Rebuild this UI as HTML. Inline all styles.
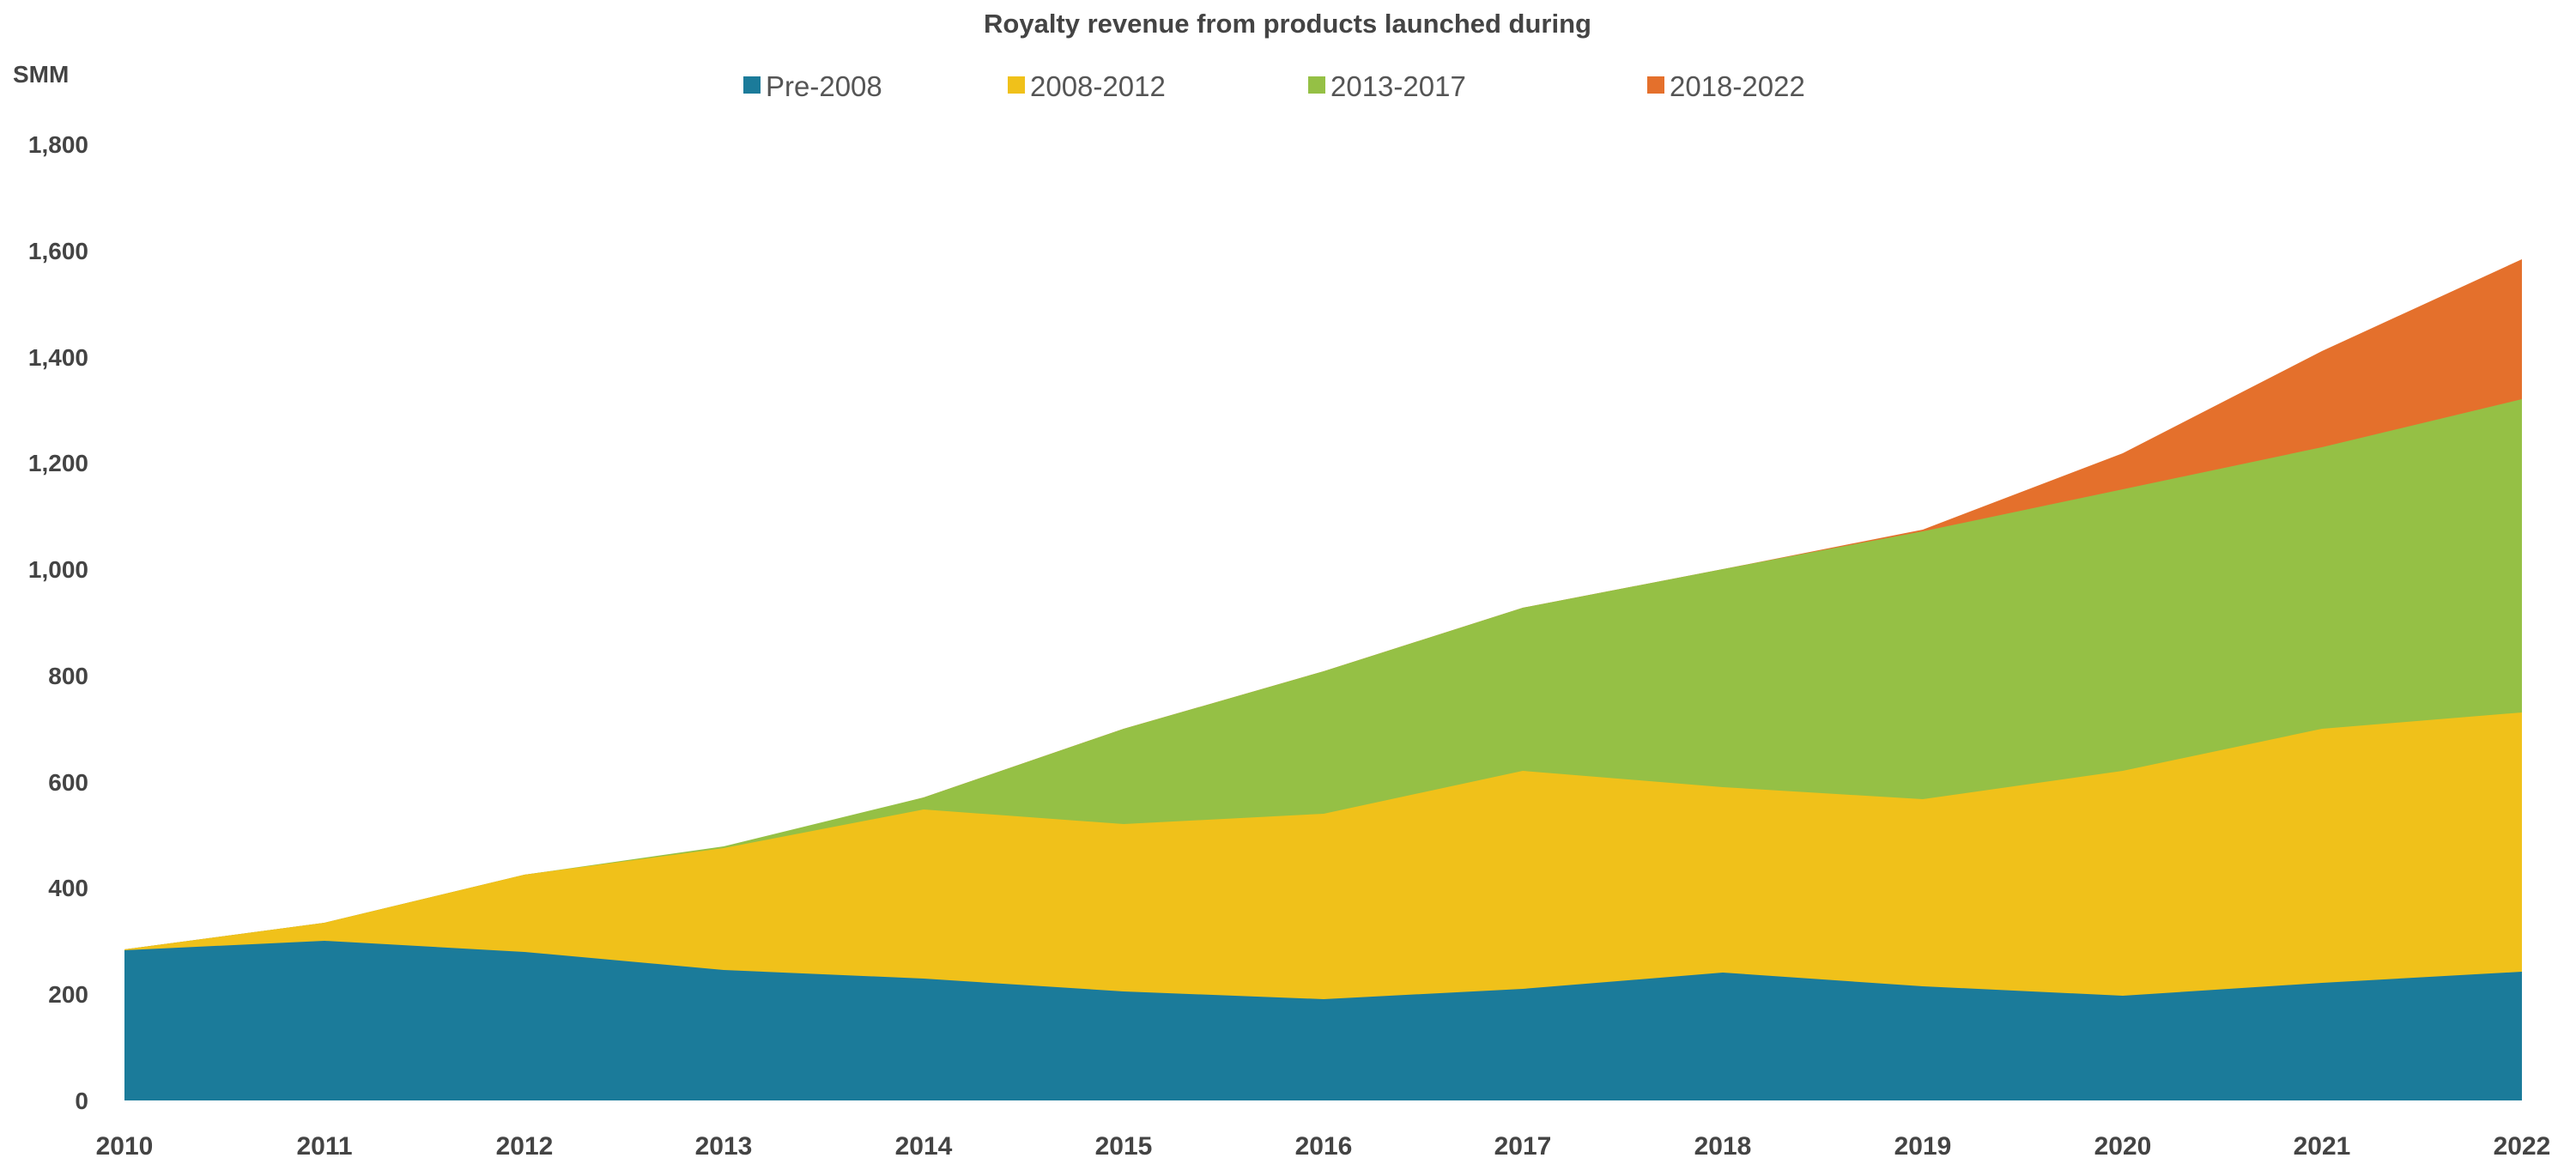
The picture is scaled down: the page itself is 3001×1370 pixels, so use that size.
<!DOCTYPE html>
<html><head><meta charset="utf-8"><style>
html,body{margin:0;padding:0;background:#fff;}
svg{display:block;font-family:"Liberation Sans",Arial,sans-serif;}
</style></head><body>
<svg width="3001" height="1370" viewBox="0 0 3001 1370">
<rect width="3001" height="1370" fill="#fff"/>
<text x="1500" y="38" text-anchor="middle" font-size="31" font-weight="bold" fill="#444">Royalty revenue from products launched during</text>
<g font-size="33" fill="#555">
<rect x="866" y="89" width="20" height="20" fill="#1b7b9a"/><text x="892" y="112">Pre-2008</text>
<rect x="1174" y="89" width="20" height="20" fill="#f0c11a"/><text x="1200" y="112">2008-2012</text>
<rect x="1524" y="89" width="20" height="20" fill="#95c045"/><text x="1550" y="112">2013-2017</text>
<rect x="1919" y="89" width="20" height="20" fill="#e4702c"/><text x="1945" y="112">2018-2022</text>
</g>
<text x="15" y="96" font-size="28" font-weight="bold" fill="#444">SMM</text>
<g font-size="28" font-weight="bold" fill="#444" text-anchor="end">
<text x="103" y="1292">0</text>
<text x="103" y="1168">200</text>
<text x="103" y="1044">400</text>
<text x="103" y="921">600</text>
<text x="103" y="797">800</text>
<text x="103" y="673">1,000</text>
<text x="103" y="549">1,200</text>
<text x="103" y="426">1,400</text>
<text x="103" y="302">1,600</text>
<text x="103" y="178">1,800</text>
</g>
<!-- orange (total) -->
<polygon fill="#e4702c" points="145,1282 145,1106 378,1075 611,1019 843,988 1076,929 1309,849 1542,782 1774,708 2007,663 2240,617 2473,528 2705,409 2938,302 2938,1282"/>
<!-- green -->
<polygon fill="#95c045" points="145,1282 145,1106 378,1075 611,1019 843,986 1076,929 1309,849 1542,782 1774,708 2007,663 2240,619 2473,570 2705,521 2938,465 2938,1282"/>
<!-- yellow -->
<polygon fill="#f0c11a" points="145,1282 145,1106 378,1075 611,1019 843,988 1076,943 1309,960 1542,948 1774,898 2007,917 2240,931 2473,898 2705,849 2938,830 2938,1282"/>
<!-- teal -->
<polygon fill="#1b7b9a" points="145,1282 145,1107 378,1096 611,1109 843,1130 1076,1140 1309,1155 1542,1164 1774,1152 2007,1133 2240,1149 2473,1160 2705,1145 2938,1132 2938,1282"/>
<g font-size="30" font-weight="bold" fill="#444" text-anchor="middle">
<text x="145" y="1345">2010</text>
<text x="378" y="1345">2011</text>
<text x="611" y="1345">2012</text>
<text x="843" y="1345">2013</text>
<text x="1076" y="1345">2014</text>
<text x="1309" y="1345">2015</text>
<text x="1542" y="1345">2016</text>
<text x="1774" y="1345">2017</text>
<text x="2007" y="1345">2018</text>
<text x="2240" y="1345">2019</text>
<text x="2473" y="1345">2020</text>
<text x="2705" y="1345">2021</text>
<text x="2938" y="1345">2022</text>
</g>
</svg>
</body></html>
